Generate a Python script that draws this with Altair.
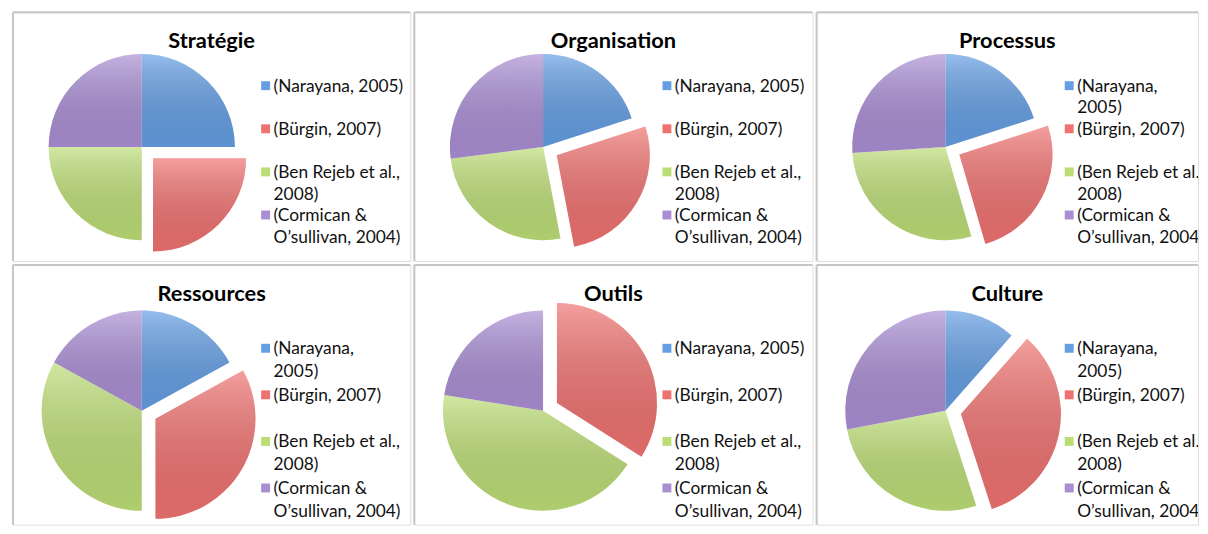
import math
import altair as alt
import pandas as pd

# ---------------- data ----------------
titles = ["Stratégie", "Organisation", "Processus", "Ressources", "Outils", "Culture"]
sources = ["(Narayana, 2005)", "(Bürgin, 2007)", "(Ben Rejeb et al., 2008)", "(Cormican & O’sullivan, 2004)"]
colors = ["#649ee3", "#ee7270", "#bcdd76", "#aa8ed3"]

strategie = [25, 25, 25, 25]
organisation = [20, 27, 26, 27]
processus = [20, 25.5, 28.5, 26]
ressources = [17, 33, 33, 17]
outils = [0, 34, 43.5, 22.5]
culture = [11.5, 33.5, 27, 28]
panel_values = [strategie, organisation, processus, ressources, outils, culture]

labels_one_line = ["(Narayana, 2005)", "(Bürgin, 2007)", "(Ben Rejeb et al.,\n2008)", "(Cormican &\nO’sullivan, 2004)"]
labels_wrapped = ["(Narayana,\n2005)", "(Bürgin, 2007)", "(Ben Rejeb et al.,\n2008)", "(Cormican &\nO’sullivan, 2004)"]
wrapped_panels = ["Processus", "Ressources", "Culture"]

# ---------------- style ----------------
FONT = "Lato"
BORDER = "#c6c6c6"
EXPLODE = 16
col_widths = [401, 402, 385]
row_heights = [251, 262]
GRAD = {
    "gradient": "linear",
    "x1": 0, "y1": 0, "x2": 0, "y2": 1,
    "stops": [
        {"offset": 0, "color": "rgba(255,255,255,0.32)"},
        {"offset": 1, "color": "rgba(0,0,0,0.07)"},
    ],
}


def panel(title, vals, labels, w, h, row):
    cx = 130
    cy = 136 if row == 0 else 147
    r = 94 if row == 0 else 101
    ly0 = 74 if row == 0 else 84
    ldy = 43.5 if row == 0 else 47
    lh = 22 if row == 0 else 23

    df = pd.DataFrame({"src": sources, "idx": list(range(4)), "value": vals, "label": labels})

    base = (
        alt.Chart(df)
        .transform_joinaggregate(total="sum(value)")
        .transform_window(cum="sum(value)", sort=[alt.SortField("idx")], frame=[None, 0])
        .transform_calculate(
            t0="(datum.cum - datum.value) / datum.total",
            t1="datum.cum / datum.total",
        )
        .transform_calculate(
            mid="PI * (datum.t0 + datum.t1)",
            ex=f"datum.idx == 1 ? {EXPLODE} : 0",
        )
        .transform_calculate(
            px=f"{cx} + datum.ex * sin(datum.mid)",
            py=f"{cy} - datum.ex * cos(datum.mid)",
        )
        .transform_filter("datum.value > 0")
    )
    enc = dict(
        theta=alt.Theta("t0:Q", scale=alt.Scale(domain=[0, 1], range=[0, 2 * math.pi])),
        theta2="t1:Q",
        x=alt.X("px:Q", scale=None),
        y=alt.Y("py:Q", scale=None),
    )
    arcs = base.mark_arc(radius=r).encode(
        fill=alt.Color("src:N", scale=alt.Scale(domain=sources, range=colors), legend=None),
        **enc,
    )
    shade = base.mark_arc(radius=r, fill=GRAD).encode(**enc)

    leg = alt.Chart(df).transform_calculate(ly=f"{ly0} + datum.idx * {ldy}")
    squares = leg.mark_square(size=81, opacity=1).encode(
        x=alt.value(255),
        y=alt.Y("ly:Q", scale=None),
        fill=alt.Color("src:N", scale=alt.Scale(domain=sources, range=colors), legend=None),
    )
    texts = leg.mark_text(
        align="left", baseline="alphabetic", dy=6, font=FONT, fontSize=17.5,
        lineBreak="\n", lineHeight=lh, clip=True, color="#111111",
    ).encode(x=alt.value(263), y=alt.Y("ly:Q", scale=None), text="label:N")

    ttl = alt.Chart(pd.DataFrame({"t": [title]})).mark_text(
        font=FONT, fontWeight="bold", fontSize=22, baseline="middle", color="#000000"
    ).encode(x=alt.value(w / 2), y=alt.value(29), text="t:N")

    one = pd.DataFrame({"a": [0]})
    top = alt.Chart(one).mark_rule(color=BORDER, strokeWidth=2).encode(
        x=alt.value(0), x2=alt.value(w), y=alt.value(0)
    )
    left = alt.Chart(one).mark_rule(color=BORDER, strokeWidth=2).encode(
        x=alt.value(0), y=alt.value(0), y2=alt.value(h)
    )
    return alt.layer(top, left, arcs, shade, squares, texts, ttl).properties(width=w, height=h)


rows = []
for r_i in range(2):
    panels = []
    for c_i in range(3):
        k = r_i * 3 + c_i
        t = titles[k]
        labs = labels_wrapped if t in wrapped_panels else labels_one_line
        panels.append(panel(t, panel_values[k], labs, col_widths[c_i], row_heights[r_i], r_i))
    rows.append(alt.hconcat(*panels, spacing=0))

chart = (
    alt.vconcat(*rows, spacing=0)
    .properties(padding={"left": 3, "top": 0, "right": 0, "bottom": 0}, background="white")
    .configure_view(stroke=None)
    .configure(font=FONT)
)

chart.save("out.html", embed_options={"renderer": "svg", "actions": False})
